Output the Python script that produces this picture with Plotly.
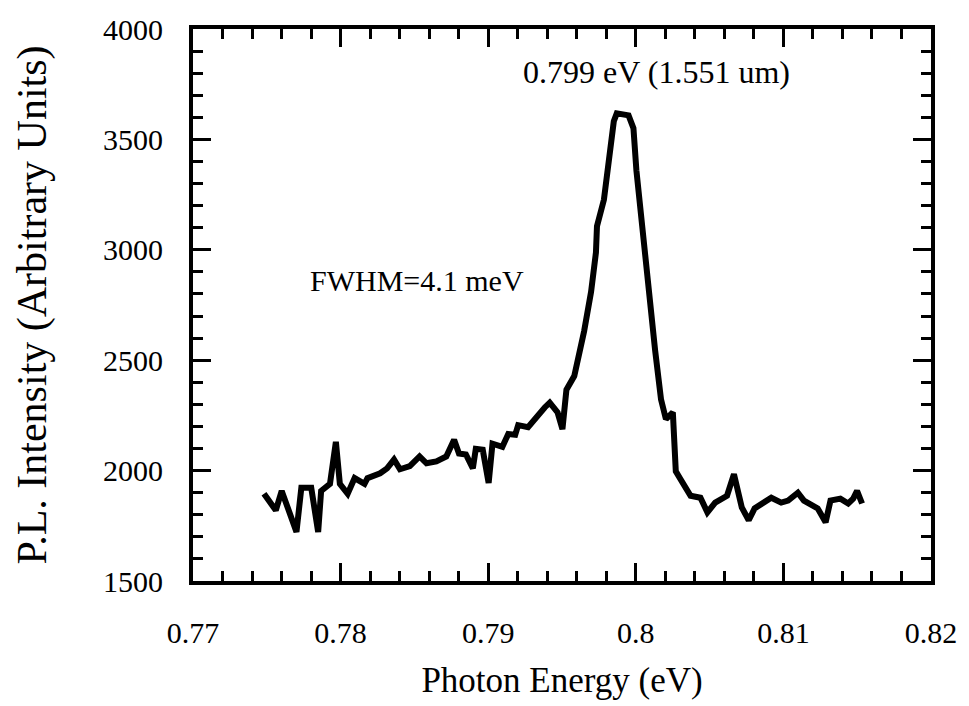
import plotly.graph_objects as go

energy_ev = [
    0.77481, 0.77561, 0.77601, 0.77701, 0.77734, 0.77801, 0.77848, 0.77868,
    0.77928, 0.77968, 0.77995, 0.78048, 0.78095, 0.78162, 0.78182, 0.78268,
    0.78315, 0.78362, 0.78402, 0.78469, 0.78535, 0.78582, 0.78649, 0.78716,
    0.78769, 0.78802, 0.78849, 0.78896, 0.78916, 0.78963, 0.79003, 0.79029,
    0.79096, 0.79136, 0.79183, 0.79203, 0.79270, 0.79336, 0.79383, 0.79417,
    0.79470, 0.79503, 0.79530, 0.79583, 0.79650, 0.79697, 0.79730, 0.79737,
    0.79784, 0.79851, 0.79871, 0.79951, 0.79984, 0.80004, 0.80037, 0.80084,
    0.80131, 0.80171, 0.80204, 0.80251, 0.80271, 0.80298, 0.80338, 0.80371,
    0.80438, 0.80485, 0.80538, 0.80618, 0.80665, 0.80698, 0.80718, 0.80765,
    0.80805, 0.80918, 0.80985, 0.81032, 0.81098, 0.81139, 0.81232, 0.81286,
    0.81319, 0.81386, 0.81439, 0.81473, 0.81499, 0.81533,
]
pl_intensity = [
    1895, 1820, 1908, 1722, 1922, 1922, 1722, 1908,
    1940, 2130, 1940, 1895, 1966, 1940, 1966, 1988,
    2010, 2050, 2006, 2020, 2064, 2033, 2042, 2064,
    2140, 2077, 2073, 2010, 2099, 2095, 1944, 2122,
    2108, 2166, 2162, 2206, 2197, 2255, 2286, 2308,
    2264, 2188, 2366, 2428, 2632, 2810, 2988, 3107,
    3227, 3582, 3618, 3609, 3551, 3360, 3138, 2841,
    2544, 2322, 2233, 2264, 1997, 1966, 1922, 1886,
    1877, 1811, 1855, 1886, 1984, 1873, 1833, 1775,
    1829, 1877, 1855, 1864, 1900, 1864, 1829, 1766,
    1864, 1873, 1851, 1873, 1908, 1851,
]

x_tickvals = [0.77, 0.78, 0.79, 0.80, 0.81, 0.82]
x_ticktext = ["0.77", "0.78", "0.79", "0.8", "0.81", "0.82"]
y_tickvals = [1500, 2000, 2500, 3000, 3500, 4000]
y_ticktext = ["1500", "2000", "2500", "3000", "3500", "4000"]

peak_label = "0.799 eV (1.551 um)"
fwhm_label = "FWHM=4.1 meV"

FONT = "Liberation Serif, Times New Roman, serif"

fig = go.Figure()
fig.add_trace(go.Scatter(
    x=energy_ev, y=pl_intensity, mode="lines",
    line=dict(color="black", width=6), showlegend=False,
))

axis_common = dict(
    showline=True, linecolor="black", linewidth=4, mirror="allticks",
    ticks="inside", ticklen=18, tickwidth=3, tickcolor="black",
    showgrid=False, zeroline=False,
    tickfont=dict(family=FONT, size=30, color="black"),
)

fig.update_xaxes(
    range=[0.77, 0.82], tickvals=x_tickvals, ticktext=x_ticktext,
    minor=dict(ticks="inside", ticklen=10, tickwidth=3, tickcolor="black", dtick=0.002, showgrid=False),
    ticklabelstandoff=22,
    title=dict(text="Photon Energy (eV)", font=dict(family=FONT, size=35, color="black"), standoff=20),
    **axis_common,
)
fig.update_yaxes(
    range=[1500, 4000], tickvals=y_tickvals, ticktext=y_ticktext,
    minor=dict(ticks="inside", ticklen=10, tickwidth=3, tickcolor="black", dtick=100, showgrid=False),
    ticklabelstandoff=20,
    title=dict(text="P.L. Intensity (Arbitrary Units)", font=dict(family=FONT, size=42, color="black"), standoff=44),
    **axis_common,
)

fig.add_annotation(x=0.80137, y=3805, text=peak_label, showarrow=False,
                   font=dict(family=FONT, size=32, color="black"))
fig.add_annotation(x=0.78515, y=2863, text=fwhm_label, showarrow=False,
                   font=dict(family=FONT, size=30, color="black"))

fig.update_layout(
    width=969, height=706,
    margin=dict(l=193, r=27, t=19, b=124),
    paper_bgcolor="white", plot_bgcolor="white",
)

fig.write_html("out.html")
